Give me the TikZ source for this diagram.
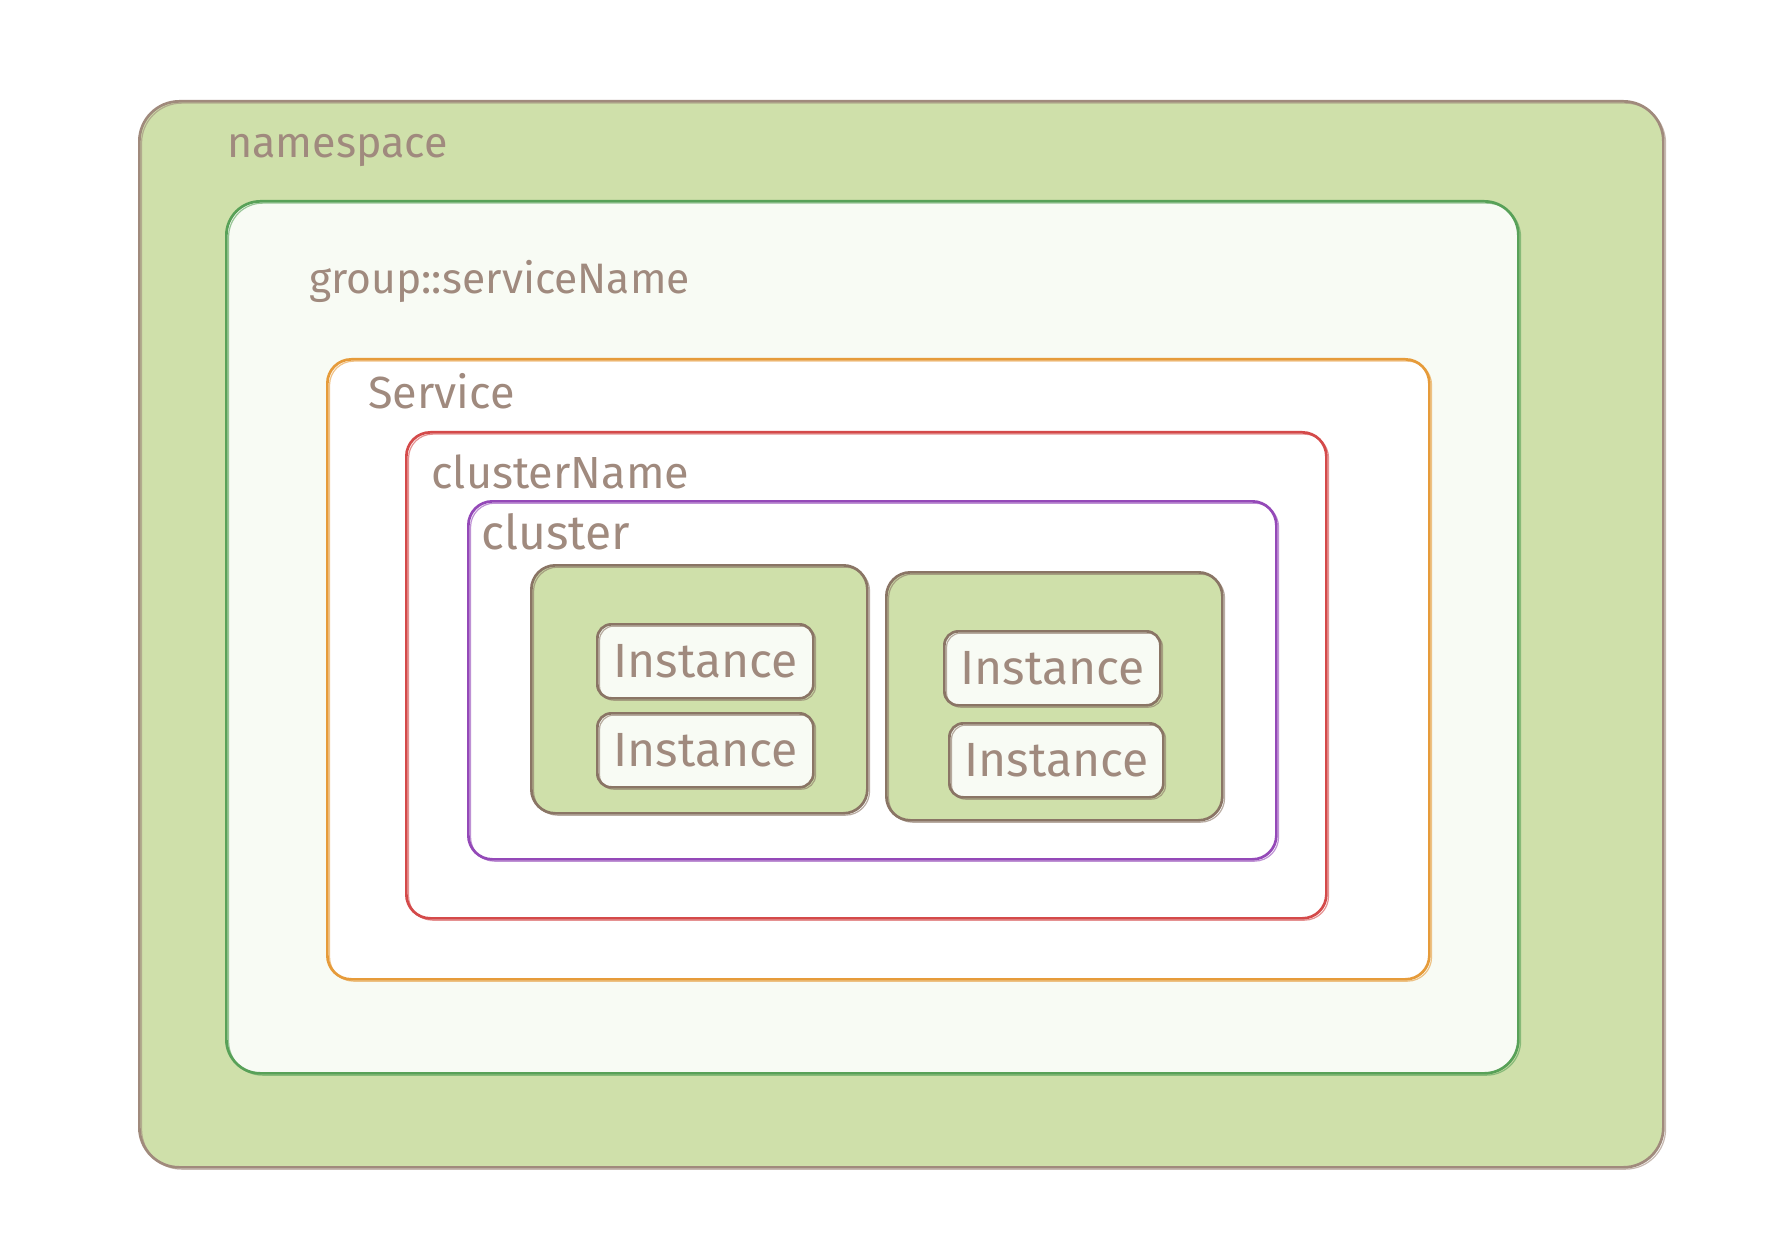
\documentclass[tikz,border=0pt]{standalone}
\usepackage{fontspec}
\setmainfont{Fira Sans}
\usepackage{xcolor}

\definecolor{nsfill}{HTML}{CFE0AA}
\definecolor{nsline}{HTML}{A08A7C}
\definecolor{grpline}{HTML}{58A158}
\definecolor{grpfill}{HTML}{F8FBF4}
\definecolor{svcline}{HTML}{E69B3A}
\definecolor{cnline}{HTML}{D44A4A}
\definecolor{clline}{HTML}{9449B8}
\definecolor{hostline}{HTML}{8A7565}
\definecolor{txt}{HTML}{A08A7E}

\begin{document}
\begin{tikzpicture}[x=0.5pt,y=-0.5pt,
  box/.style={draw, line width=1.35pt, anchor=north west, inner sep=0pt,
    postaction={draw, line width=0.6pt, draw opacity=0.6, transform canvas={shift={(1.1pt,-0.9pt)}}}},
  lbl/.style={anchor=west, inner sep=0pt, text=txt, font=\fontsize{22.5}{27}\selectfont},
  inst/.style={box, draw=hostline, fill=grpfill, rounded corners=7pt,
    text=txt, font=\fontsize{24}{28}\selectfont}]

\useasboundingbox (0,0) rectangle (1780,1256);

\node[box, draw=nsline, fill=nsfill, rounded corners=20pt, minimum width=762pt, minimum height=533pt] (ns) at (138,100) {};
\node[box, draw=grpline, fill=grpfill, rounded corners=17pt, minimum width=646pt, minimum height=436pt] (grp) at (225,200) {};
\node[box, draw=svcline, fill=white, rounded corners=12pt, minimum width=551pt, minimum height=310pt] (svc) at (326,358) {};
\node[box, draw=cnline, fill=white, rounded corners=12pt, minimum width=460pt, minimum height=243pt] (cn) at (405,431) {};
\node[box, draw=clline, fill=white, rounded corners=12pt, minimum width=404pt, minimum height=179pt] (cl) at (467,500) {};

\node[box, draw=hostline, fill=nsfill, rounded corners=12pt, minimum width=168pt, minimum height=124pt] (h1) at (530,564) {};
\node[box, draw=hostline, fill=nsfill, rounded corners=12pt, minimum width=168pt, minimum height=124pt] (h2) at (885,571) {};

\node[inst, minimum width=108pt, minimum height=37pt] (i11) at (596,623) {Instance};
\node[inst, minimum width=108pt, minimum height=37pt] (i12) at (596,712) {Instance};
\node[inst, minimum width=108pt, minimum height=37pt] (i21) at (943,630) {Instance};
\node[inst, minimum width=107pt, minimum height=37pt] (i22) at (948,722) {Instance};

\node[lbl, font=\fontsize{21.5}{25}\selectfont] (nsl) at (227,150) {namespace};
\node[lbl, font=\fontsize{21.3}{25}\selectfont] (grpl) at (309,281) {group::serviceName};
\node[lbl] (svcl) at (368,391) {Service};
\node[lbl] (cnl) at (431,472) {clusterName};
\node[lbl, font=\fontsize{24}{28}\selectfont] (cll) at (481,532) {cluster};

\end{tikzpicture}
\end{document}
